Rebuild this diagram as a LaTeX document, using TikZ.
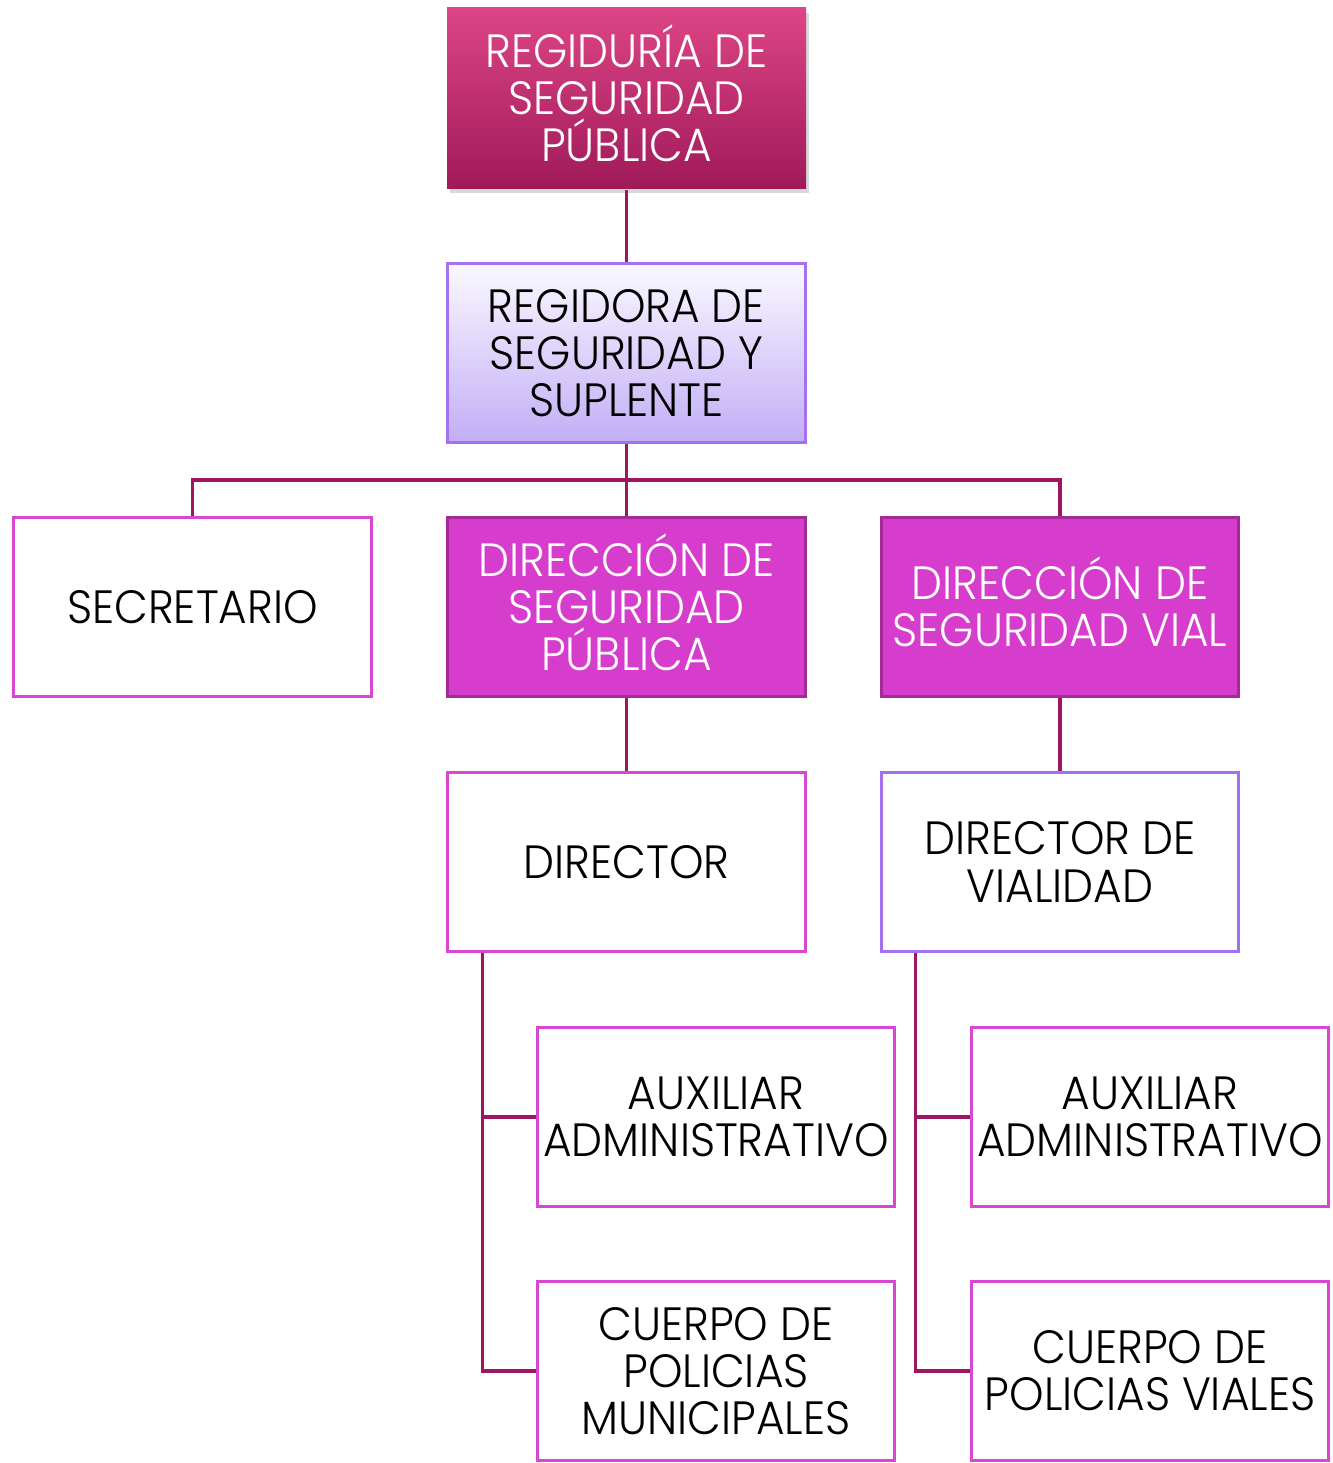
\documentclass[tikz,border=0pt]{standalone}
\usepackage{fontspec}
\setmainfont{Poppins}[UprightFont={* Light}, FakeStretch=0.94]
\usetikzlibrary{shadows}
\definecolor{conn}{HTML}{9E1561}
\definecolor{topA}{HTML}{DD4585}
\definecolor{topB}{HTML}{A01A5A}
\definecolor{lavA}{HTML}{FAF8FF}
\definecolor{lavB}{HTML}{C2AEF6}
\definecolor{lavBorder}{HTML}{A371F0}
\definecolor{magFill}{HTML}{D63DCC}
\definecolor{magBorder}{HTML}{A52A98}
\definecolor{pinkBorder}{HTML}{D946D0}
\tikzset{
  box/.style={rectangle, minimum width=268pt, minimum height=134pt, inner sep=0pt, align=center,
    line width=2.25pt, font=\fontsize{35}{35.3}\selectfont},
  whitebox/.style={box, draw=pinkBorder, fill=white, text=black},
  magbox/.style={box, draw=magBorder, fill=magFill, text=white},
  link/.style={draw=conn, line width=2.4pt}
}
\begin{document}
\begin{tikzpicture}[x=0.75pt,y=-0.75pt]
\useasboundingbox (0,0) rectangle (1332,1463);
\fill[white] (0,0) rectangle (1332,1463);
\node[box, top color=topA, bottom color=topB, text=white, minimum width=269.25pt, minimum height=135pt,
  drop shadow={opacity=0.3, shadow xshift=2pt, shadow yshift=-4pt}] (A) at (626.5,98) {REGIDUR\smash{Í}A DE\\SEGURIDAD\\PÚBLICA};
\node[box, draw=lavBorder, top color=lavA, bottom color=lavB, text=black] (B) at (626.5,353) {REGIDORA DE\\SEGURIDAD Y\\SUPLENTE};
\node[whitebox] (C) at (192.5,607) {SECRETARIO};
\node[magbox] (D) at (626.5,607) {DIRECCI\smash{Ó}N DE\\SEGURIDAD\\PÚBLICA};
\node[magbox] (E) at (1060,607) {DIRECCI\smash{Ó}N DE\\SEGURIDAD VIAL};
\node[whitebox] (F) at (626.5,862) {DIRECTOR};
\node[whitebox, draw=lavBorder] (G) at (1060,862) {DIRECTOR DE\\VIALIDAD};
\node[whitebox] (H) at (716,1117) {AUXILIAR\\ADMINISTRATIVO};
\node[whitebox] (I) at (716,1371) {CUERPO DE\\POLICIAS\\MUNICIPALES};
\node[whitebox] (J) at (1150,1117) {AUXILIAR\\ADMINISTRATIVO};
\node[whitebox] (K) at (1150,1371) {CUERPO DE\\POLICIAS VIALES};
\coordinate (bar) at (626.5,480);
\draw[link] (A.south) -- (B.north);
\draw[link] (B.south) -- (bar);
\draw[link] (C.north) |- (bar) -| (E.north);
\draw[link] (bar) -- (D.north);
\draw[link] (D.south) -- (F.north);
\draw[link] (E.south) -- (G.north);
\draw[link] ([xshift=27pt]F.south west) |- (H.west);
\draw[link] ([xshift=27pt]F.south west) |- (I.west);
\draw[link] ([xshift=27pt]G.south west) |- (J.west);
\draw[link] ([xshift=27pt]G.south west) |- (K.west);
\end{tikzpicture}
\end{document}
